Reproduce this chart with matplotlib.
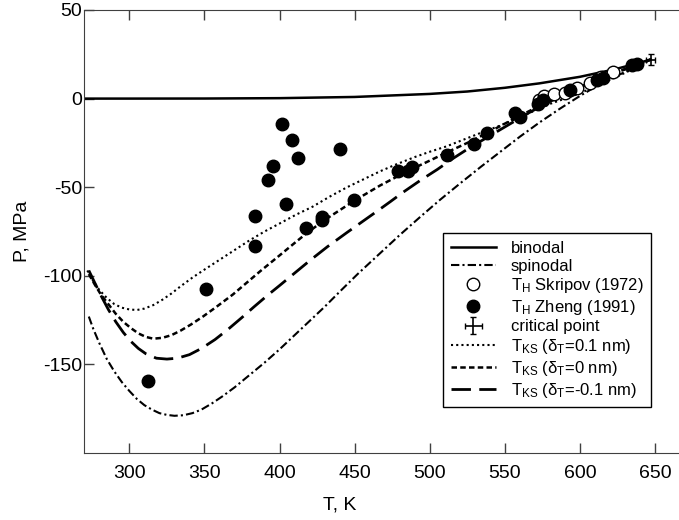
import matplotlib
matplotlib.use('Agg')
import matplotlib.pyplot as plt

plt.rcParams['font.family'] = ['Liberation Sans', 'DejaVu Sans']
plt.rcParams['mathtext.fontset'] = 'custom'
plt.rcParams['mathtext.rm'] = 'Liberation Sans'
plt.rcParams['mathtext.it'] = 'Liberation Sans'
plt.rcParams['axes.unicode_minus'] = False

# binodal (saturation line)
T_bin = [270, 300, 350, 400, 450, 500, 525, 550, 573, 600, 623, 640, 647]
P_bin = [0.0, 0.0035, 0.042, 0.25, 0.93, 2.64, 4.0, 6.1, 8.6, 12.3, 16.5, 20.3, 22.06]

# spinodal
T_sp = [273, 276, 280, 285, 290, 295, 300, 305, 310, 315, 320, 325, 330, 336,
        342, 348, 355, 362, 370, 380, 390, 400, 410, 420, 430, 440, 452, 466,
        480, 494, 507, 520, 534, 547, 560, 573, 587, 600, 612, 625, 636, 647]
P_sp = [-123, -130, -138, -147, -154, -160, -165, -169.5, -173, -175.5, -177.5,
        -178.5, -179, -178.7, -177.5, -175.5, -172, -168, -163, -156, -149,
        -141.5, -133.5, -125.5, -117.5, -109, -99, -88, -77, -66.5, -57, -48,
        -38.5, -30, -21.5, -13.5, -5.5, 1.5, 7.5, 13, 17.5, 22]

# T_KS, delta_T = 0.1 nm
T_ks1 = [272, 276, 280, 285, 290, 295, 300, 305, 310, 316, 322, 328, 334, 342,
         350, 360, 370, 380, 390, 400, 411, 422, 433, 445, 456, 467, 478, 490,
         500, 511, 523, 535, 546, 556, 568, 580, 590, 600, 612, 625, 636, 647]
P_ks1 = [-97, -103, -108, -112.5, -116, -118, -119, -119.3, -118.5, -116.5,
         -113.5, -110, -106, -101, -96.5, -91, -85.5, -80, -75, -70.5, -65.5,
         -61, -55.5, -50, -45.5, -41, -37, -33, -30, -27, -23, -19, -15.5, -12,
         -7.5, -3, 0, 3, 7.5, 12.5, 17, 22]

# T_KS, delta_T = 0 nm
T_ks0 = [273, 277, 281, 286, 291, 296, 301, 306, 311, 316, 322, 328, 334, 341,
         349, 358, 369, 378, 387, 400, 410, 418, 430, 440, 450, 467, 485, 500,
         511, 525, 538, 557, 578, 600, 625, 647]
P_ks0 = [-99, -105, -110.5, -116, -121.5, -126, -129.5, -132.5, -134.5, -135.5,
         -135, -133.5, -131, -127.5, -123, -117.5, -110.5, -104, -97.5, -88.5,
         -81.5, -76, -68.5, -63, -57.5, -49, -41, -35, -30.5, -25, -19.5, -11,
         -2, 6.5, 15, 22]

# T_KS, delta_T = -0.1 nm
T_ksm = [273, 277, 281, 286, 291, 296, 301, 306, 311, 318, 325, 332, 340, 348,
         357, 366, 375, 383, 392, 400, 410, 420, 432, 445, 455, 465, 474, 482,
         494, 505, 516, 527, 541, 555, 566, 578, 590, 600, 612, 625, 636, 647]
P_ksm = [-97, -104, -111, -119, -126, -132, -137, -141, -144, -146.5, -147,
         -146.5, -144.5, -141, -136, -130, -123.5, -117.5, -111, -105.5, -98.5,
         -91.5, -83.5, -75.5, -69.5, -63.5, -58, -53, -46, -40, -33.5, -27.5,
         -20.5, -13.5, -8, -2.5, 2.5, 6.5, 10.5, 15, 18.5, 22]

# T_H data
T_skr = [573, 576, 583, 590, 598, 607, 614, 622]
P_skr = [-1, 1.5, 2.5, 3, 6, 9, 12, 15]

T_zh = [312.7, 350.9, 383.5, 383.7, 392.5, 395.9, 401.9, 404.1, 408.1, 412.5,
        417.6, 428.5, 428.5, 440.3, 449.6, 479.1, 485.3, 488.4, 511.3, 529.5,
        537.9, 556.8, 560.1, 572, 575.6, 593.4, 611.2, 615.6, 634.5, 637.8]
P_zh = [-159.2, -107.5, -66.1, -83.2, -46.0, -38.1, -14.6, -59.3, -23.1, -33.6,
        -73.2, -66.6, -68.5, -28.3, -57.3, -41.1, -40.7, -38.5, -32.1, -25.9,
        -19.3, -8.4, -10.3, -3, -0.6, 5.1, 10.7, 11.6, 19.1, 19.7]

Tc, Pc = 647.1, 22.06

xmin, xmax = 270, 690
fig = plt.figure(figsize=(6.79, 5.20), dpi=100)
ax_w = (xmax - xmin) * 1.502 / 679
ax = fig.add_axes([84.3 / 679, 67 / 520, ax_w, 443 / 520])

h_bin, = ax.plot(T_bin, P_bin, '-', color='k', lw=1.8, label='binodal')
h_sp, = ax.plot(T_sp, P_sp, color='k', lw=1.5, dashes=(4, 1.5, 1, 1.5),
                label='spinodal')
h1, = ax.plot(T_ks1, P_ks1, color='k', lw=1.5, dashes=(1, 1.5),
              label=r'T$_\mathrm{KS}$ (δ$_\mathrm{T}$=0.1 nm)')
h0, = ax.plot(T_ks0, P_ks0, color='k', lw=1.8, dashes=(2.2, 1.3),
              label=r'T$_\mathrm{KS}$ (δ$_\mathrm{T}$=0 nm)')
hm, = ax.plot(T_ksm, P_ksm, color='k', lw=2.0, dashes=(7, 3),
              label=r'T$_\mathrm{KS}$ (δ$_\mathrm{T}$=-0.1 nm)')
h_skr, = ax.plot(T_skr, P_skr, 'o', mfc='white', mec='k', mew=1.0, ms=9,
                 label=r'T$_\mathrm{H}$ Skripov (1972)')
h_zh, = ax.plot(T_zh, P_zh, 'o', color='k', ms=9,
                label=r'T$_\mathrm{H}$ Zheng (1991)')
h_cp = ax.errorbar([Tc], [Pc], xerr=3, yerr=3, fmt='none', ecolor='k',
                   elinewidth=1.2, capsize=2.5, label='critical point')

ax.set_xlim(xmin, xmax)
ax.set_ylim(-200, 50)
ax.set_xticks([300, 350, 400, 450, 500, 550, 600, 650])
ax.set_yticks([-150, -100, -50, 0, 50])
ax.tick_params(direction='in', length=7, width=1, top=True, right=True,
               labelsize=14, color='#404040')
ax.tick_params(axis='x', pad=9)
ax.tick_params(axis='y', pad=1.5)
for s in ax.spines.values():
    s.set_color('#404040')
ax.set_xlabel('T, K', fontsize=14)
ax.set_ylabel('P, MPa', fontsize=14)
ax.xaxis.set_label_coords((340 - 84.3) / (ax_w * 679), -(505 - 453) / 443)
ax.xaxis.label.set_va('center')
ax.yaxis.set_label_coords(-(84.3 - 22) / (ax_w * 679), 0.5)
ax.yaxis.label.set_va('center')

leg = ax.legend([h_bin, h_sp, h_skr, h_zh, h_cp, h1, h0, hm],
                [h.get_label() for h in [h_bin, h_sp, h_skr, h_zh]]
                + ['critical point', h1.get_label(), h0.get_label(), hm.get_label()],
                loc='lower right', bbox_to_anchor=(651 / 679, 113 / 520),
                bbox_transform=fig.transFigure, fontsize=12, frameon=True,
                fancybox=False, edgecolor='k', framealpha=1, labelspacing=0.16,
                handlelength=2.7, handletextpad=0.9, borderpad=0.45,
                borderaxespad=0)
leg.get_frame().set_linewidth(1.0)

fig.savefig('out.png', dpi=100)
